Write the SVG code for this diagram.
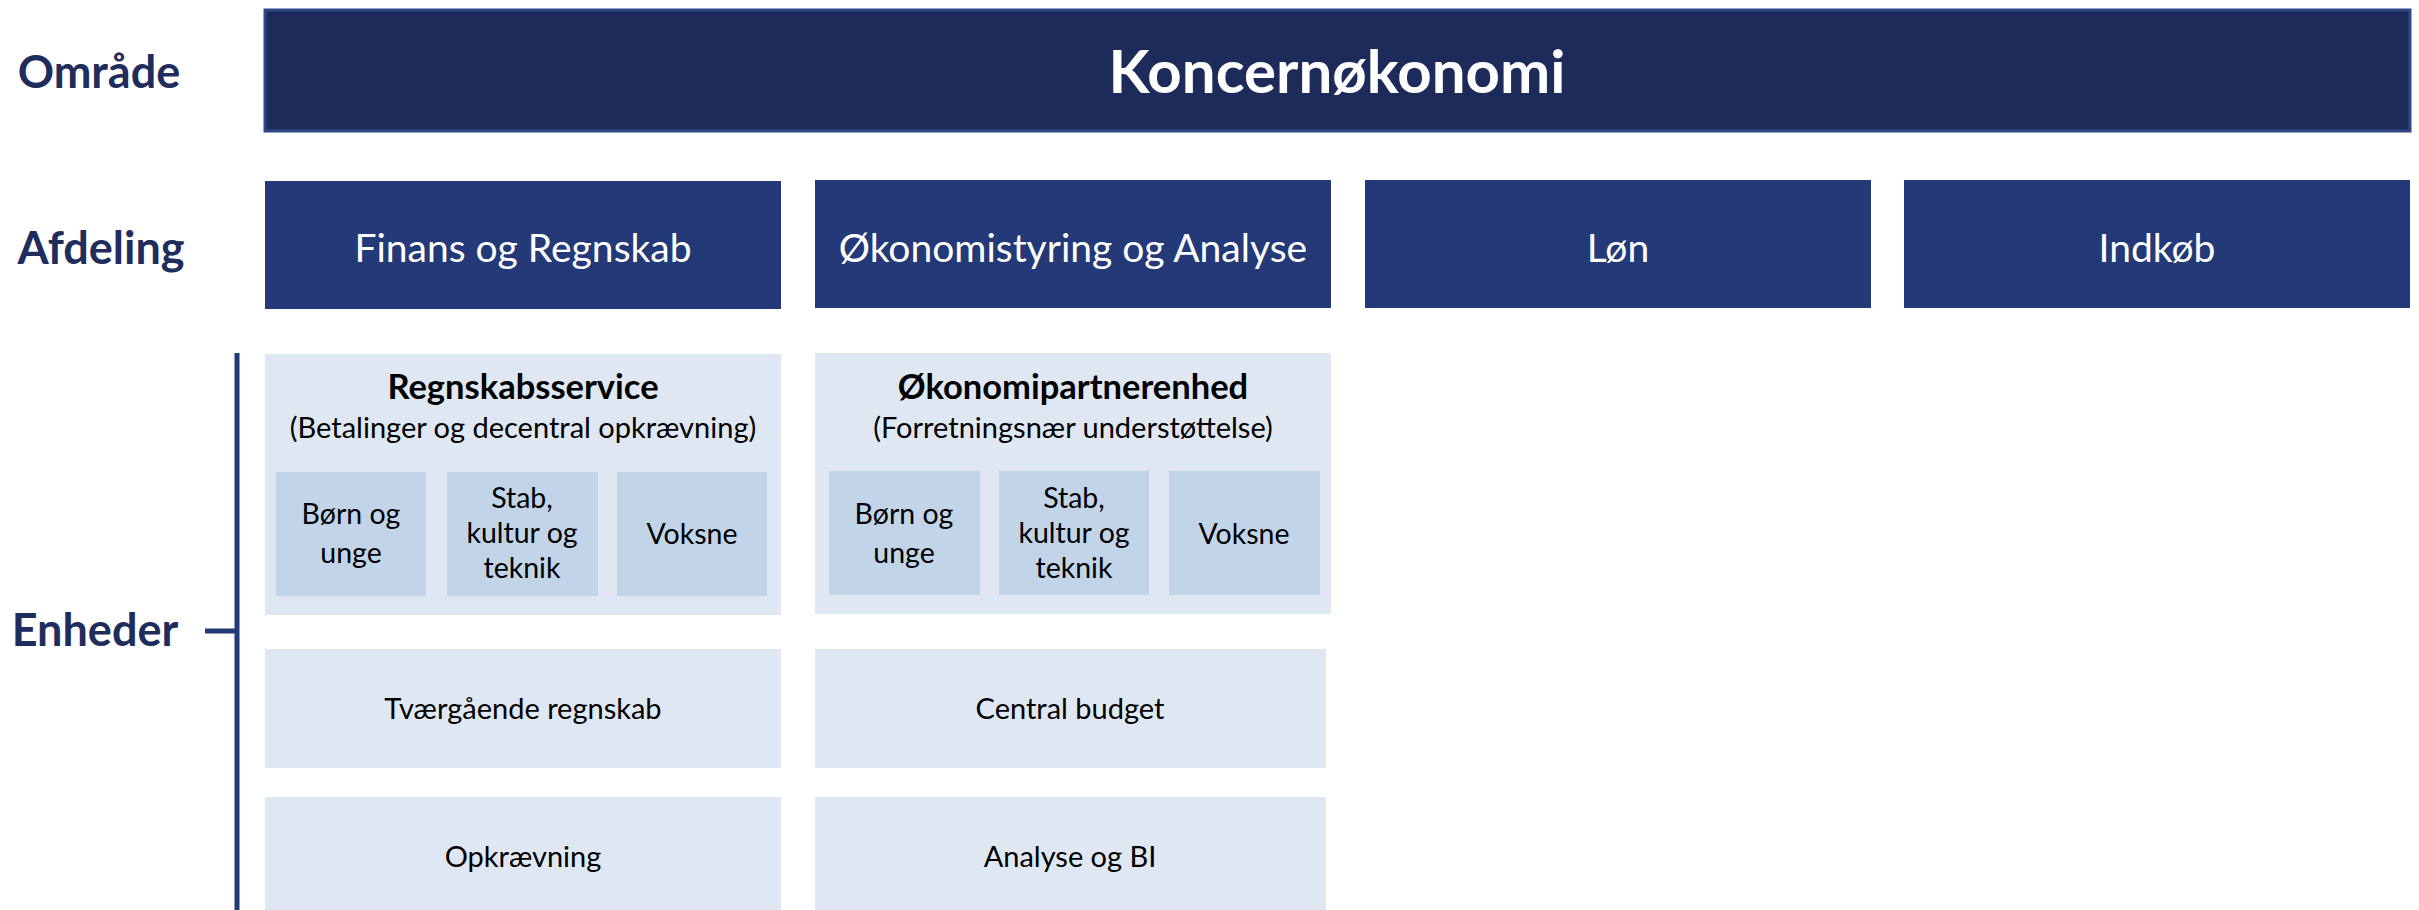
<svg xmlns="http://www.w3.org/2000/svg" width="2419" height="910" viewBox="0 0 2419 910">
<style>
.lbl{font-family:Lato,"Liberation Sans",sans-serif;font-weight:bold;fill:#1f2d5c;font-size:45px;text-anchor:middle}
.top{fill:#1d2b5a;stroke:#2f4788;stroke-width:3}
.dept{fill:#243a78}
.dtxt{font-family:Lato,"Liberation Sans",sans-serif;fill:#ffffff;font-size:39px;text-anchor:middle}
.outer{fill:#dfe7f2}
.inner{fill:#c1d4e8}
.t{font-family:Lato,"Liberation Sans",sans-serif;fill:#000000;font-size:29px;text-anchor:middle}
.ts{font-family:Lato,"Liberation Sans",sans-serif;fill:#000000;font-size:28.5px;text-anchor:middle}
.tb{font-family:Lato,"Liberation Sans",sans-serif;fill:#000000;font-size:34.5px;font-weight:bold;text-anchor:middle}
</style>
<rect width="2419" height="910" fill="#ffffff"/>
<g id="labels">
<text class="lbl" x="99" y="88">Område</text>
<text class="lbl" x="101" y="264">Afdeling</text>
<text class="lbl" x="95" y="646">Enheder</text>
</g>
<g id="connectors" fill="none" stroke="#243a78" stroke-width="5">
<line x1="237" y1="353" x2="237" y2="910"/>
<line x1="205" y1="631" x2="237" y2="631"/>
</g>
<g id="koncern">
<rect class="top" x="265" y="10" width="2145" height="121"/>
<text x="1337" y="93" font-family="Lato,'Liberation Sans',sans-serif" font-weight="bold" font-size="60" fill="#ffffff" text-anchor="middle">Koncernøkonomi</text>
</g>
<g id="finans">
<rect class="dept" x="265" y="181" width="516" height="128"/>
<text class="dtxt" x="523" y="262">Finans og Regnskab</text>
</g>
<g id="okonomistyring">
<rect class="dept" x="815" y="180" width="516" height="128"/>
<text class="dtxt" x="1073" y="262">Økonomistyring og Analyse</text>
</g>
<g id="lon">
<rect class="dept" x="1365" y="180" width="506" height="128"/>
<text class="dtxt" x="1618" y="262">Løn</text>
</g>
<g id="indkob">
<rect class="dept" x="1904" y="180" width="506" height="128"/>
<text class="dtxt" x="2157" y="262">Indkøb</text>
</g>
<g id="regnskabsservice">
<rect class="outer" x="265" y="354" width="516" height="261"/>
<text class="tb" x="523" y="399">Regnskabsservice</text>
<text class="t" x="523" y="438">(Betalinger og decentral opkrævning)</text>
</g>
<g id="rs-born">
<rect class="inner" x="276" y="472" width="150" height="124"/>
<text class="ts" x="351" y="524">Børn og</text>
<text class="ts" x="351" y="563">unge</text>
</g>
<g id="rs-stab">
<rect class="inner" x="447" y="472" width="151" height="124"/>
<text class="ts" x="522" y="508">Stab,</text>
<text class="ts" x="522" y="543">kultur og</text>
<text class="ts" x="522" y="578">teknik</text>
</g>
<g id="rs-voksne">
<rect class="inner" x="617" y="472" width="150" height="124"/>
<text class="ts" x="692" y="544">Voksne</text>
</g>
<g id="okonomipartnerenhed">
<rect class="outer" x="815" y="353" width="516" height="261"/>
<text class="tb" x="1073" y="399">Økonomipartnerenhed</text>
<text class="t" x="1073" y="438">(Forretningsnær understøttelse)</text>
</g>
<g id="op-born">
<rect class="inner" x="829" y="471" width="151" height="124"/>
<text class="ts" x="904" y="524">Børn og</text>
<text class="ts" x="904" y="563">unge</text>
</g>
<g id="op-stab">
<rect class="inner" x="999" y="471" width="150" height="124"/>
<text class="ts" x="1074" y="508">Stab,</text>
<text class="ts" x="1074" y="543">kultur og</text>
<text class="ts" x="1074" y="578">teknik</text>
</g>
<g id="op-voksne">
<rect class="inner" x="1169" y="471" width="151" height="124"/>
<text class="ts" x="1244" y="544">Voksne</text>
</g>
<g id="tvaergaende">
<rect class="outer" x="265" y="649" width="516" height="119"/>
<text class="t" x="523" y="719">Tværgående regnskab</text>
</g>
<g id="central-budget">
<rect class="outer" x="815" y="649" width="511" height="119"/>
<text class="t" x="1070" y="719">Central budget</text>
</g>
<g id="opkraevning">
<rect class="outer" x="265" y="797" width="516" height="119"/>
<text class="t" x="523" y="867">Opkrævning</text>
</g>
<g id="analyse-bi">
<rect class="outer" x="815" y="797" width="511" height="119"/>
<text class="t" x="1070" y="867">Analyse og BI</text>
</g>
</svg>
